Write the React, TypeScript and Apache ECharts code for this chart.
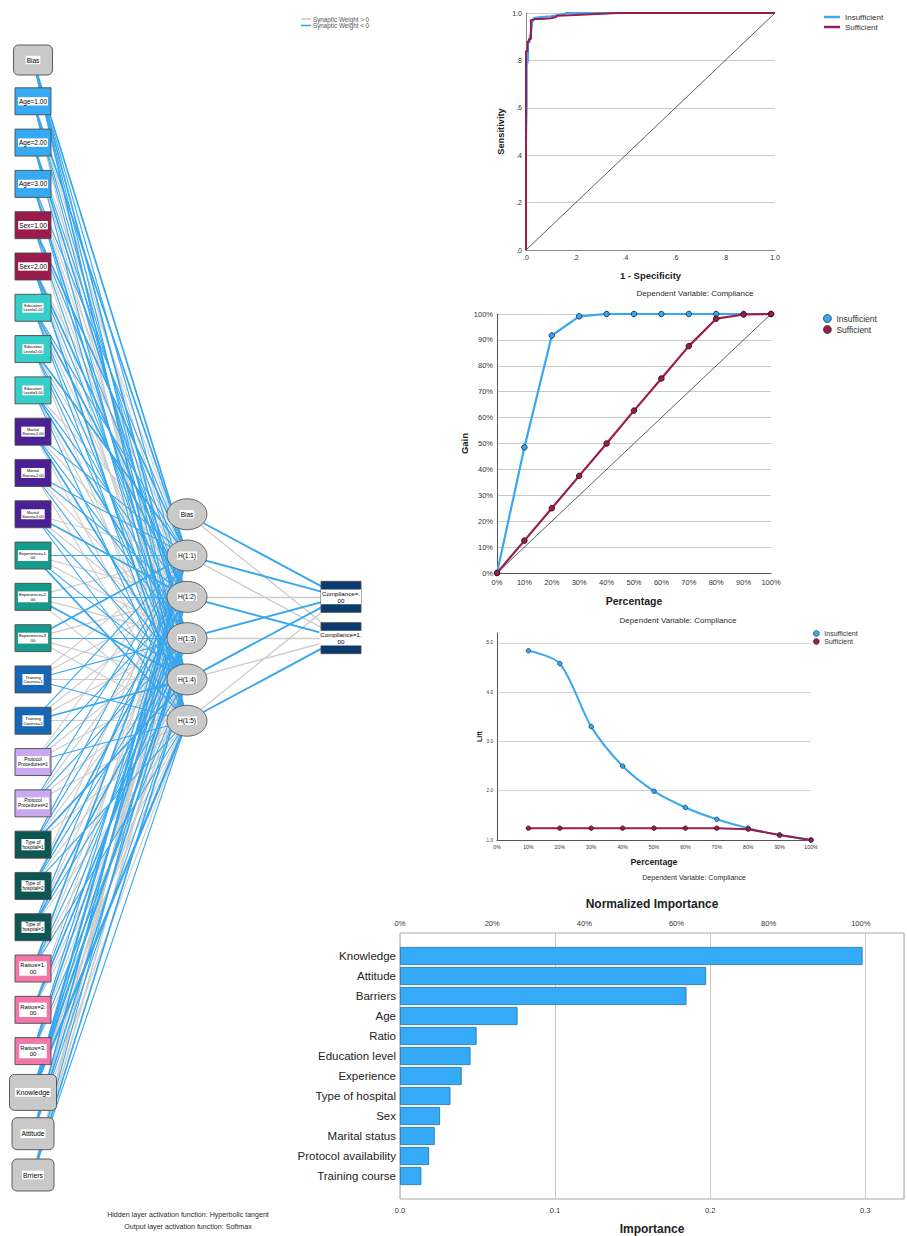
import React, { useEffect, useRef } from "react";
import * as echarts from "echarts";

const FONT = "'Liberation Sans', Arial, Helvetica, sans-serif";
const BLUE = "#38A8F0";
const MAROON = "#9C1C4E";
const GRID_GREY = "#c9c9c9";
const AXIS_GREY = "#8a8a8a";
const EDGE_GREY = "#cbcbcb";
const EDGE_BLUE = "#36a6ee";

// ---------------- ROC ----------------
const rocTickLabels = [".0", ".2", ".4", ".6", ".8", "1.0"];
const rocInsufficient = [
  [0, 0], [0, 0.45], [0.003, 0.62], [0.003, 0.78], [0.008, 0.8], [0.008, 0.87],
  [0.015, 0.88], [0.015, 0.9], [0.022, 0.93], [0.025, 0.96], [0.03, 0.978],
  [0.05, 0.982], [0.1, 0.986], [0.13, 0.992], [0.155, 0.996], [0.16, 1], [1, 1],
];
const rocSufficient = [
  [0, 0], [0, 0.84], [0.006, 0.84], [0.006, 0.88], [0.012, 0.88], [0.012, 0.89],
  [0.02, 0.89], [0.02, 0.97], [0.03, 0.97], [0.035, 0.975], [0.06, 0.975],
  [0.1, 0.978], [0.12, 0.983], [0.125, 0.988], [0.2, 0.992], [0.37, 1], [1, 1],
];
const rocReference = [[0, 0], [1, 1]];

// ---------------- Gain ----------------
const gainPercent = [0, 10, 20, 30, 40, 50, 60, 70, 80, 90, 100];
const gainInsufficient = [0, 48.5, 91.7, 99.1, 100, 100, 100, 100, 100, 100, 100];
const gainSufficient = [0, 12.5, 25, 37.5, 50, 62.7, 75.1, 87.6, 98.2, 99.8, 100];
const gainReference = [0, 100];

// ---------------- Lift ----------------
const liftPercent = [10, 20, 30, 40, 50, 60, 70, 80, 90, 100];
const liftInsufficient = [4.84, 4.58, 3.3, 2.5, 1.99, 1.66, 1.42, 1.24, 1.1, 1.0];
const liftSufficient = [1.24, 1.24, 1.24, 1.24, 1.24, 1.24, 1.24, 1.22, 1.1, 1.0];

// ---------------- Importance ----------------
const importanceVars = [
  "Knowledge", "Attitude", "Barriers", "Age", "Ratio", "Education level",
  "Experience", "Type of hospital", "Sex", "Marital status",
  "Protocol availability", "Training course",
];
const importanceValues = [
  0.2971, 0.1966, 0.184, 0.0755, 0.0492, 0.0453, 0.0396, 0.0324, 0.0257,
  0.0223, 0.0187, 0.0137,
];

// ---------------- Network ----------------
const inputLabels = [
  "Bias", "Age=1.00", "Age=2.00", "Age=3.00", "Sex=1.00", "Sex=2.00",
  "Education\nLevel=1.00", "Education\nLevel=2.00", "Education\nLevel=3.00",
  "Marital\nStatus=1.00", "Marital\nStatus=2.00", "Marital\nStatus=3.00",
  "Experience=1.\n00", "Experience=2.\n00", "Experience=3.\n00",
  "Training\nCourse=1", "Training\nCourse=2",
  "Protocol\nProcedures=1", "Protocol\nProcedures=2",
  "Type of\nhospital=1", "Type of\nhospital=2", "Type of\nhospital=3",
  "Ratios=1.\n00", "Ratios=2.\n00", "Ratios=3.\n00",
  "Knowledge", "Attitude", "Brriers",
];
const inputGroups = [
  "bias", "age", "age", "age", "sex", "sex", "edu", "edu", "edu",
  "marital", "marital", "marital", "exp", "exp", "exp", "training", "training",
  "protocol", "protocol", "type", "type", "type", "ratio", "ratio", "ratio",
  "scale", "scale", "scale",
];
const hiddenLabels = ["Bias", "H(1:1)", "H(1:2)", "H(1:3)", "H(1:4)", "H(1:5)"];
const outputLabels = ["Compliance=.\n00", "Compliance=1.\n00"];
const legendLabels = ["Synaptic Weight > 0", "Synaptic Weight < 0"];
// synaptic weights (sign and rough magnitude), input -> H(1:1)..H(1:5)
const inputWeights = [
  [-2, -1, -2, -1, -2],
  [-2, 1, -1, -1, 1],
  [1, -1, -2, 1, -1],
  [-1, 1, 1, -2, -1],
  [-2, -1, 1, -1, 1],
  [1, -2, -1, 1, -2],
  [-1, -2, 1, -1, -1],
  [-2, 1, -1, -1, 1],
  [1, -1, -2, 1, -1],
  [-1, 1, -1, -2, 1],
  [-1, -1, 1, -1, 1],
  [1, -2, 1, -1, -1],
  [-1, 1, 1, -1, -2],
  [1, -1, 1, -2, 1],
  [-2, 1, -1, 1, 1],
  [1, 1, -1, 1, -1],
  [-1, 1, 1, -2, 1],
  [1, -1, 1, 1, -1],
  [-1, 1, -1, 1, 1],
  [-1, -1, 1, -2, 1],
  [1, -2, -1, 1, -1],
  [-1, 1, -2, -1, 1],
  [-2, 1, -1, 1, -1],
  [1, -1, -2, 1, 1],
  [-1, -2, 1, -1, 1],
  [-3, -2, -3, 2, -3],
  [-2, 2, -2, -1, 1],
  [3, -1, 2, -2, -1],
];
// hidden (Bias, H1..H5) -> Compliance=.00, Compliance=1.00
const hiddenWeights = [
  [-2, 1],
  [-2, 1],
  [1, -2],
  [-2, 1],
  [-2, 1],
  [1, -2],
];

const groupStyle: Record<string, { fill: string; fs: number }> = {
  bias: { fill: "#c9c9c9", fs: 6.5 },
  age: { fill: "#36a9f3", fs: 6.5 },
  sex: { fill: "#9a1c4c", fs: 6.5 },
  edu: { fill: "#35cec9", fs: 3.9 },
  marital: { fill: "#4b2094", fs: 4 },
  exp: { fill: "#169a8c", fs: 4.4 },
  training: { fill: "#1767b5", fs: 4.4 },
  protocol: { fill: "#c9aaf0", fs: 4.8 },
  type: { fill: "#0d5653", fs: 4.6 },
  ratio: { fill: "#f276a8", fs: 6 },
  scale: { fill: "#c9c9c9", fs: 6.8 },
};

const HIDDEN_SLOT0 = 11;
const OUTPUT_SLOT0 = 13;

type NodeSpec = {
  label: string; layer: number; slot: number; shape: string;
  fill: string; w: number; h: number; fs: number;
};

function buildNodes(): NodeSpec[] {
  const nodes: NodeSpec[] = [];
  inputLabels.forEach((label, i) => {
    const g = inputGroups[i];
    const st = groupStyle[g];
    let w = 36, h = 27, shape = "box";
    if (g === "bias") { w = 39; h = 30; shape = "rbox"; }
    if (g === "scale") { shape = "rbox"; w = label.length > 8 ? 47 : 42; h = label.length > 8 ? 36 : 32; }
    nodes.push({ label, layer: 0, slot: i, shape, fill: st.fill, w, h, fs: st.fs });
  });
  hiddenLabels.forEach((label, i) => {
    nodes.push({ label, layer: 1, slot: HIDDEN_SLOT0 + i, shape: "ellipse", fill: "#c9c9c9", w: 40, h: 31, fs: 6.5 });
  });
  outputLabels.forEach((label, i) => {
    nodes.push({ label, layer: 2, slot: OUTPUT_SLOT0 + i, shape: "out", fill: "#0a3a6e", w: 40, h: 31, fs: 6.2 });
  });
  return nodes;
}

function buildEdges() {
  const pos: any[] = [];
  const neg: any[] = [];
  const widthOf = (w: number) => 0.5 + 0.6 * Math.abs(w);
  inputWeights.forEach((row, i) =>
    row.forEach((w, j) => {
      const item = { coords: [[0, i], [1, HIDDEN_SLOT0 + 1 + j]], lineStyle: { width: widthOf(w) } };
      (w > 0 ? pos : neg).push(item);
    })
  );
  hiddenWeights.forEach((row, h) =>
    row.forEach((w, o) => {
      const item = { coords: [[1, HIDDEN_SLOT0 + h], [2, OUTPUT_SLOT0 + o]], lineStyle: { width: widthOf(w) + 0.2 } };
      (w > 0 ? pos : neg).push(item);
    })
  );
  return { pos, neg };
}

function buildOption() {
  const nodes = buildNodes();
  const edges = buildEdges();
  const tickLabel = (fs: number, margin: number) => ({ fontSize: fs, fontFamily: FONT, color: "#333", margin });
  const axisName = (fs: number) => ({ fontSize: fs, fontFamily: FONT, fontWeight: "bold" as const, color: "#222" });
  const topMaxPct = (0.325 / importanceValues[0]) * 100;
  const note = (x: number, y: number, text: string, fs: number) => ({
    type: "text", x, y, silent: true,
    style: { text, fontSize: fs, fontFamily: FONT, fill: "#2b2b2b", align: "center", verticalAlign: "middle" },
  });

  return {
    animation: false,
    backgroundColor: "#ffffff",
    textStyle: { fontFamily: FONT },
    grid: [
      { left: 526, top: 13, width: 249, height: 237 },
      { left: 497, top: 314, width: 274, height: 259 },
      { left: 497, top: 633, width: 314, height: 207 },
      { left: 400, top: 933, width: 506, height: 266, show: true, borderColor: "#a6a6a6", borderWidth: 1 },
      { left: 400, top: 946, width: 506, height: 240 },
      { left: 33, top: 60, width: 308, height: 1115 },
    ],
    xAxis: [
      {
        gridIndex: 0, type: "value", min: 0, max: 1, interval: 0.2,
        axisLine: { show: true, onZero: false, lineStyle: { color: AXIS_GREY } },
        axisTick: { show: false }, splitLine: { show: false },
        axisLabel: { ...tickLabel(7, 4), formatter: (v: number) => rocTickLabels[Math.round(v * 5)] },
        name: "1 - Specificity", nameLocation: "middle", nameGap: 20, nameTextStyle: axisName(9.5),
      },
      {
        gridIndex: 1, type: "value", min: 0, max: 100, interval: 10,
        axisLine: { show: true, onZero: false, lineStyle: { color: "#555" } },
        axisTick: { show: false }, splitLine: { show: false },
        axisLabel: { ...tickLabel(7.5, 5), formatter: (v: number) => v + "%" },
        name: "Percentage", nameLocation: "middle", nameGap: 22, nameTextStyle: axisName(10.5),
      },
      {
        gridIndex: 2, type: "value", min: 0, max: 100, interval: 10,
        axisLine: { show: true, onZero: false, lineStyle: { color: "#555" } },
        axisTick: { show: false }, splitLine: { show: false },
        axisLabel: { ...tickLabel(5.2, 4), formatter: (v: number) => v + "%" },
        name: "Percentage", nameLocation: "middle", nameGap: 17, nameTextStyle: axisName(8.7),
      },
      {
        gridIndex: 3, type: "value", min: 0, max: 0.325, interval: 0.1, position: "bottom",
        axisLine: { show: false }, axisTick: { show: false },
        splitLine: { show: true, lineStyle: { color: GRID_GREY, width: 1 } },
        axisLabel: {
          ...tickLabel(7.5, 7),
          formatter: (v: number) => (Math.abs(v * 10 - Math.round(v * 10)) < 1e-6 ? v.toFixed(1) : ""),
        },
        name: "Importance", nameLocation: "middle", nameGap: 24, nameTextStyle: axisName(12),
      },
      {
        gridIndex: 3, type: "value", min: 0, max: topMaxPct, interval: 20, position: "top",
        axisLine: { show: false }, axisTick: { show: false }, splitLine: { show: false },
        axisLabel: { ...tickLabel(7.5, 6), formatter: (v: number) => (v <= 100.0001 ? Math.round(v) + "%" : "") },
        name: "Normalized Importance", nameLocation: "middle", nameGap: 23, nameTextStyle: axisName(12),
      },
      { gridIndex: 4, type: "value", min: 0, max: 0.325, show: false },
      { gridIndex: 5, type: "value", min: 0, max: 2, show: false },
    ],
    yAxis: [
      {
        gridIndex: 0, type: "value", min: 0, max: 1, interval: 0.2,
        axisLine: { show: true, lineStyle: { color: AXIS_GREY } }, axisTick: { show: false },
        splitLine: { show: true, lineStyle: { color: GRID_GREY } },
        axisLabel: { ...tickLabel(7, 4), formatter: (v: number) => rocTickLabels[Math.round(v * 5)] },
        name: "Sensitivity", nameLocation: "middle", nameGap: 21, nameTextStyle: axisName(9.3),
      },
      {
        gridIndex: 1, type: "value", min: 0, max: 100, interval: 10,
        axisLine: { show: true, lineStyle: { color: "#555" } }, axisTick: { show: false },
        splitLine: { show: true, lineStyle: { color: GRID_GREY } },
        axisLabel: { ...tickLabel(7.5, 4), formatter: (v: number) => v + "%" },
        name: "Gain", nameLocation: "middle", nameGap: 25, nameTextStyle: axisName(9.5),
      },
      {
        gridIndex: 2, type: "value", min: 1, max: 5.2, interval: 1,
        axisLine: { show: true, lineStyle: { color: "#555" } }, axisTick: { show: false },
        splitLine: {
          show: true,
          lineStyle: { color: ["#d2d2d2", "#d2d2d2", "#d2d2d2", "#d2d2d2", "#d2d2d2", "rgba(0,0,0,0)"] },
        },
        axisLabel: {
          ...tickLabel(4.6, 4),
          formatter: (v: number) => (Math.abs(v - Math.round(v)) < 1e-6 ? v.toFixed(1) : ""),
        },
        name: "Lift", nameLocation: "middle", nameGap: 12, nameTextStyle: axisName(7),
      },
      { gridIndex: 3, type: "value", min: 0, max: 1, show: false },
      {
        gridIndex: 4, type: "category", data: importanceVars, inverse: true,
        axisLine: { show: false }, axisTick: { show: false },
        axisLabel: { fontSize: 11.5, fontFamily: FONT, color: "#222", margin: 4 },
      },
      { gridIndex: 5, type: "value", min: 0, max: 27, inverse: true, show: false },
    ],
    legend: [
      {
        left: 824, top: 13, orient: "vertical", padding: 0, itemGap: 2, itemWidth: 16, itemHeight: 2.5,
        icon: "rect", selectedMode: false,
        textStyle: { fontSize: 8, fontFamily: FONT, color: "#333" },
        data: ["Insufficient", "Sufficient"],
      },
      {
        left: 823, top: 314, orient: "vertical", padding: 0, itemGap: 2, itemWidth: 8, itemHeight: 8,
        icon: "circle", selectedMode: false,
        itemStyle: { borderColor: "#333", borderWidth: 0.8 },
        textStyle: { fontSize: 8.5, fontFamily: FONT, color: "#333" },
        data: ["Insufficient", "Sufficient"],
      },
      {
        left: 813, top: 630, orient: "vertical", padding: 0, itemGap: 1, itemWidth: 6, itemHeight: 6,
        icon: "circle", selectedMode: false,
        itemStyle: { borderColor: "#333", borderWidth: 0.6 },
        textStyle: { fontSize: 7, fontFamily: FONT, color: "#333" },
        data: ["Insufficient", "Sufficient"],
      },
    ],
    graphic: [
      note(695, 293, "Dependent Variable: Compliance", 8),
      note(678, 620, "Dependent Variable: Compliance", 8),
      note(694, 878, "Dependent Variable: Compliance", 7.1),
      note(188, 1214.5, "Hidden layer activation function: Hyperbolic tangent", 7.1),
      note(188, 1227, "Output layer activation function: Softmax", 7.1),
      // synaptic weight key
      { type: "line", silent: true, shape: { x1: 301, y1: 19, x2: 311, y2: 19 }, style: { stroke: EDGE_GREY, lineWidth: 1.6 } },
      { type: "line", silent: true, shape: { x1: 301, y1: 25.5, x2: 311, y2: 25.5 }, style: { stroke: EDGE_BLUE, lineWidth: 1.6 } },
      { type: "text", x: 313, y: 19, silent: true, style: { text: legendLabels[0], fontSize: 6.3, fontFamily: FONT, fill: "#555", align: "left", verticalAlign: "middle" } },
      { type: "text", x: 313, y: 25.5, silent: true, style: { text: legendLabels[1], fontSize: 6.3, fontFamily: FONT, fill: "#555", align: "left", verticalAlign: "middle" } },
    ],
    series: [
      // ROC
      {
        name: "Insufficient", type: "line", xAxisIndex: 0, yAxisIndex: 0, data: rocInsufficient,
        showSymbol: false, symbol: "none", itemStyle: { color: BLUE }, lineStyle: { color: BLUE, width: 2 }, z: 3,
      },
      {
        name: "Sufficient", type: "line", xAxisIndex: 0, yAxisIndex: 0, data: rocSufficient,
        showSymbol: false, symbol: "none", itemStyle: { color: MAROON }, lineStyle: { color: MAROON, width: 2 }, z: 4,
      },
      {
        name: "rocRef", type: "line", xAxisIndex: 0, yAxisIndex: 0, data: rocReference,
        showSymbol: false, symbol: "none", lineStyle: { color: "#333", width: 0.8 }, z: 2,
      },
      // Gain
      {
        name: "gainRef", type: "line", xAxisIndex: 1, yAxisIndex: 1,
        data: gainReference.map((v) => [v, v]),
        showSymbol: false, symbol: "none", lineStyle: { color: "#333", width: 0.8 }, z: 2,
      },
      {
        name: "Insufficient", type: "line", xAxisIndex: 1, yAxisIndex: 1,
        data: gainPercent.map((p, i) => [p, gainInsufficient[i]]),
        symbol: "circle", symbolSize: 5.5, showSymbol: true,
        itemStyle: { color: BLUE, borderColor: "#1f3d5c", borderWidth: 1 },
        lineStyle: { color: BLUE, width: 2.2 }, z: 3,
      },
      {
        name: "Sufficient", type: "line", xAxisIndex: 1, yAxisIndex: 1,
        data: gainPercent.map((p, i) => [p, gainSufficient[i]]),
        symbol: "circle", symbolSize: 5.5, showSymbol: true,
        itemStyle: { color: MAROON, borderColor: "#3a1020", borderWidth: 1 },
        lineStyle: { color: MAROON, width: 2.2 }, z: 4,
      },
      // Lift
      {
        name: "Insufficient", type: "line", xAxisIndex: 2, yAxisIndex: 2,
        data: liftPercent.map((p, i) => [p, liftInsufficient[i]]),
        smooth: 0.3, symbol: "circle", symbolSize: 4.5, showSymbol: true,
        itemStyle: { color: BLUE, borderColor: "#1f3d5c", borderWidth: 0.8 },
        lineStyle: { color: BLUE, width: 2 }, z: 3,
      },
      {
        name: "Sufficient", type: "line", xAxisIndex: 2, yAxisIndex: 2,
        data: liftPercent.map((p, i) => [p, liftSufficient[i]]),
        symbol: "circle", symbolSize: 4.5, showSymbol: true,
        itemStyle: { color: MAROON, borderColor: "#3a1020", borderWidth: 0.8 },
        lineStyle: { color: MAROON, width: 2 }, z: 4,
      },
      // Importance
      {
        name: "Importance", type: "bar", xAxisIndex: 5, yAxisIndex: 4, data: importanceValues,
        barWidth: 18, itemStyle: { color: "#35aaf6", borderColor: "#1f6ea6", borderWidth: 0.8 }, z: 3,
      },
      // Network edges
      {
        name: legendLabels[0], type: "lines", coordinateSystem: "cartesian2d",
        xAxisIndex: 6, yAxisIndex: 5, data: edges.pos, silent: true,
        lineStyle: { color: EDGE_GREY, opacity: 1, width: 1 }, z: 2,
      },
      {
        name: legendLabels[1], type: "lines", coordinateSystem: "cartesian2d",
        xAxisIndex: 6, yAxisIndex: 5, data: edges.neg, silent: true,
        lineStyle: { color: EDGE_BLUE, opacity: 1, width: 1 }, z: 3,
      },
      // Network nodes
      {
        name: "nodes", type: "custom", coordinateSystem: "cartesian2d",
        xAxisIndex: 6, yAxisIndex: 5, silent: true, clip: false, z: 6,
        data: nodes.map((n) => [n.layer, n.slot]),
        encode: { x: 0, y: 1 },
        renderItem: (params: any, api: any) => {
          const n = nodes[params.dataIndex];
          const c = api.coord([api.value(0), api.value(1)]);
          const children: any[] = [];
          if (n.shape === "ellipse") {
            children.push({
              type: "ellipse",
              shape: { cx: c[0], cy: c[1], rx: n.w / 2, ry: n.h / 2 },
              style: { fill: n.fill, stroke: "#5a5a5a", lineWidth: 0.9 },
            });
          } else {
            children.push({
              type: "rect",
              shape: { x: c[0] - n.w / 2, y: c[1] - n.h / 2, width: n.w, height: n.h, r: n.shape === "rbox" ? 5 : 0 },
              style: { fill: n.fill, stroke: "#4d4d4d", lineWidth: 0.9 },
            });
          }
          children.push({
            type: "text",
            x: c[0], y: c[1],
            style: {
              text: n.label, fontSize: n.fs, fontFamily: FONT, fill: "#000",
              align: "center", verticalAlign: "middle",
              backgroundColor: "#ffffff", padding: [0.6, 1], lineHeight: n.fs * 1.1,
            },
          });
          return { type: "group", children };
        },
      },
    ],
  };
}

export default function App() {
  const ref = useRef<HTMLDivElement>(null);
  useEffect(() => {
    if (!ref.current) return;
    const chart = echarts.init(ref.current, null, { renderer: "svg" });
    chart.setOption(buildOption() as any);
    return () => chart.dispose();
  }, []);
  return (
    <div
      ref={ref}
      style={{ position: "absolute", left: 0, top: 0, width: 907, height: 1236, background: "#fff" }}
    />
  );
}
